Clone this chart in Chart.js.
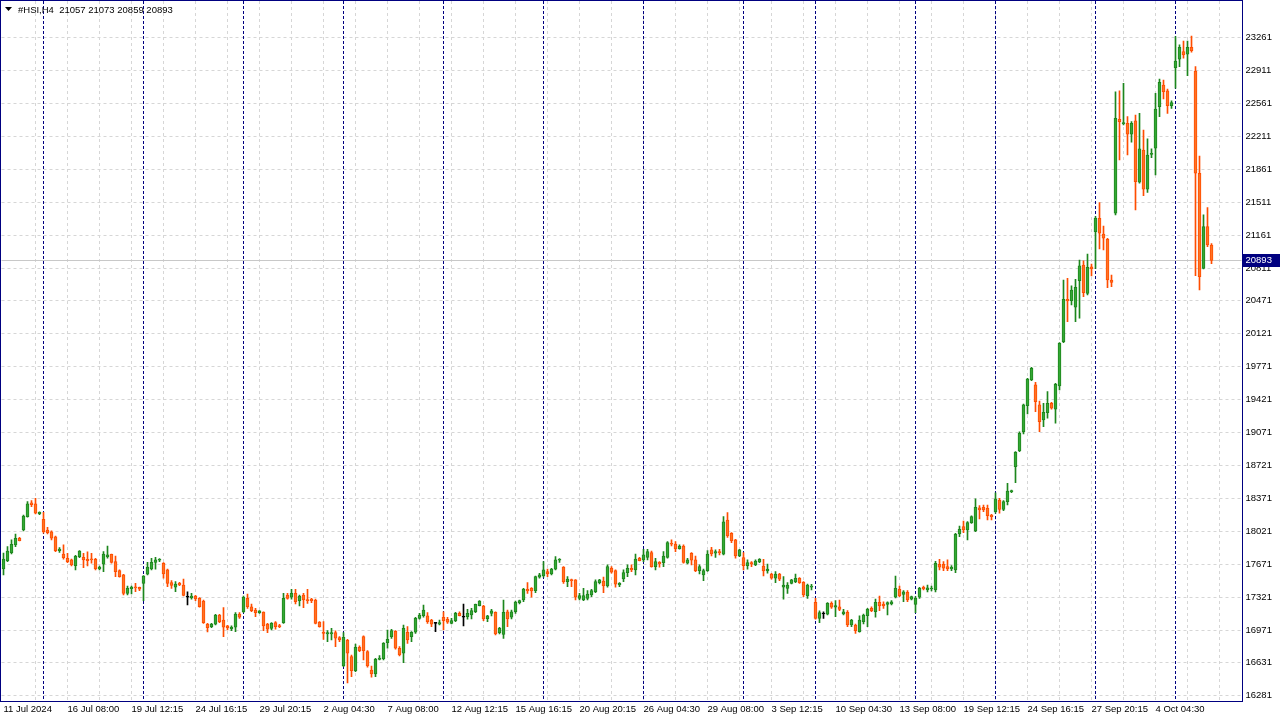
<!DOCTYPE html>
<html>
<head>
<meta charset="utf-8">
<title>#HSI,H4</title>
<script src="https://cdn.jsdelivr.net/npm/chart.js@4.4.1/dist/chart.umd.min.js"></script>
<style>
  html, body { margin: 0; padding: 0; background: #ffffff; }
  #wrap { width: 1280px; height: 720px; position: relative; }
</style>
</head>
<body>
<div id="wrap"><canvas id="chart" width="1280" height="720"></canvas></div>
<script>
// H4 candles, 11 Jul 2024 .. 7 Oct 2024
const opens = [
  17621,17709,17794,17876,17947,18035,18176,18324,18311,18208,
  18148,18035,18014,17961,17815,17780,17735,17717,17656,17752,
  17745,17724,17730,17724,17621,17671,17748,17777,17699,17603,
  17558,17363,17412,17427,17427,17469,17565,17621,17692,17714,
  17682,17611,17476,17427,17469,17451,17321,17314,17335,17310,
  17282,17038,17009,17035,17133,17080,17017,16985,17003,17144,
  17168,17310,17221,17186,17158,17165,17038,16992,17052,17020,
  17052,17345,17321,17363,17285,17345,17296,17303,17292,17059,
  16950,16932,16932,16946,16893,16592,16865,16691,16543,16791,
  16903,16744,16550,16508,16663,16670,16840,16903,16960,16780,
  16727,16950,16903,16950,17098,17126,17123,17080,17045,17035,
  17109,17088,17045,17073,17151,17109,17116,17133,17168,17232,
  17229,17094,17151,17162,16946,16928,17168,17109,17168,17264,
  17292,17406,17416,17391,17534,17547,17593,17568,17619,17714,
  17640,17487,17505,17505,17310,17292,17310,17345,17380,17476,
  17494,17441,17630,17603,17451,17515,17582,17629,17611,17735,
  17717,17745,17794,17646,17692,17688,17745,17894,17886,17837,
  17865,17682,17788,17717,17603,17558,17603,17823,17788,17805,
  17777,18141,18000,17929,17759,17741,17656,17688,17664,17695,
  17653,17600,17568,17523,17568,17427,17416,17469,17487,17523,
  17480,17335,17427,17268,17098,17144,17141,17257,17215,17221,
  17144,17162,17027,17027,16956,17063,17126,17204,17168,17268,
  17250,17246,17250,17321,17406,17352,17374,17300,17246,17321,
  17427,17399,17409,17399,17671,17671,17646,17621,17611,17992,
  18070,18035,18112,18024,18271,18276,18265,18194,18229,18353,
  18254,18335,18441,18707,18876,19077,19353,19626,19573,19361,
  19202,19279,19379,19315,19562,20032,20482,20467,20397,20679,
  20845,20545,20827,21199,21341,21174,21118,20686,21394,22391,
  22344,22348,22232,22373,21723,22065,21648,22019,22083,22524,
  22754,22691,22535,22938,23027,23108,23080,23154,22903,21818,
  20810,21252,21057
];
const highs = [
  17791,17858,17929,17992,17957,18194,18335,18346,18371,18226,
  18223,18063,18027,17971,17847,17876,17788,17727,17767,17815,
  17788,17802,17788,17735,17653,17805,17865,17780,17759,17611,
  17565,17441,17441,17469,17430,17550,17692,17735,17745,17731,
  17688,17619,17497,17487,17480,17515,17380,17363,17342,17317,
  17292,17045,17045,17141,17141,17211,17024,17017,17158,17158,
  17335,17356,17250,17204,17179,17168,17045,17052,17063,17035,
  17363,17363,17406,17406,17345,17363,17406,17310,17303,17063,
  17063,16967,16992,16964,16903,16946,16875,16709,16826,16805,
  16911,16755,16592,16674,16702,16840,16974,16982,16967,16797,
  17027,17009,16956,17109,17151,17239,17158,17088,17052,17080,
  17168,17109,17098,17162,17168,17250,17193,17204,17250,17285,
  17236,17130,17193,17168,17003,17292,17186,17186,17282,17292,
  17416,17476,17423,17547,17575,17699,17619,17629,17752,17731,
  17646,17540,17515,17508,17363,17416,17391,17406,17505,17512,
  17534,17664,17646,17611,17476,17611,17664,17664,17780,17745,
  17830,17830,17812,17735,17699,17805,17911,17929,17911,17876,
  17876,17735,17794,17759,17664,17619,17815,17851,17823,17830,
  18176,18219,18006,17936,17830,17794,17717,17699,17717,17731,
  17724,17674,17576,17593,17576,17540,17476,17512,17568,17529,
  17487,17462,17459,17310,17176,17168,17264,17274,17285,17292,
  17193,17179,17088,17038,17123,17144,17204,17221,17303,17335,
  17274,17274,17285,17547,17441,17391,17391,17335,17328,17427,
  17441,17451,17441,17703,17724,17699,17717,17656,18000,18077,
  18130,18123,18186,18364,18293,18300,18300,18201,18430,18371,
  18346,18530,18459,18866,19077,19371,19644,19760,19601,19403,
  19379,19502,19389,19591,20021,20686,20704,20623,20694,20898,
  20888,20962,20856,21358,21506,21259,21129,20739,22683,22691,
  22772,22418,22365,22436,22454,22277,22182,22076,22666,22818,
  22807,22712,22585,23267,23179,23221,23221,23274,22949,22001,
  21376,21453,21073
];
const lows = [
  17558,17699,17780,17858,17918,18024,18170,18282,18205,18197,
  18000,17992,17929,17805,17798,17724,17688,17653,17611,17741,
  17635,17653,17682,17611,17611,17593,17735,17682,17540,17534,
  17345,17345,17356,17380,17391,17285,17558,17611,17619,17699,
  17523,17433,17416,17380,17444,17335,17239,17300,17285,17215,
  17045,16953,17000,17027,17052,16903,16974,16967,16956,17098,
  17158,17204,17168,17115,17151,16967,16946,16974,16982,17000,
  17045,17300,17300,17250,17229,17211,17257,17264,17038,17003,
  16875,16850,16868,16797,16850,16585,16412,16479,16532,16744,
  16656,16579,16473,16480,16656,16656,16780,16886,16770,16699,
  16628,16833,16850,16939,17088,17109,17045,17009,16956,17027,
  16974,17045,17038,17063,17123,17017,17088,17091,17158,17229,
  17073,17063,17123,16921,16932,16886,17009,17091,17151,17250,
  17274,17363,17321,17370,17523,17534,17540,17558,17611,17692,
  17469,17433,17433,17292,17292,17285,17292,17328,17370,17462,
  17370,17427,17576,17427,17433,17487,17540,17593,17558,17706,
  17699,17717,17640,17611,17640,17646,17735,17865,17805,17830,
  17682,17674,17664,17593,17568,17497,17596,17759,17745,17770,
  17770,17957,17900,17735,17752,17611,17618,17646,17656,17688,
  17547,17576,17512,17476,17497,17300,17363,17462,17476,17469,
  17328,17310,17399,17088,17052,17098,17133,17204,17115,17179,
  17133,17009,17009,16939,16950,17038,17009,17168,17109,17179,
  17204,17133,17239,17314,17328,17274,17274,17292,17158,17310,
  17399,17377,17388,17377,17611,17603,17603,17603,17582,17964,
  18006,17929,18105,18017,18152,18229,18141,18141,18212,18212,
  18240,18300,18430,18537,18865,19053,19265,19618,19290,19077,
  19130,19220,19315,19167,19520,20021,20244,20421,20244,20280,
  20509,20527,20729,20810,21015,21005,20605,20615,21376,21959,
  22330,22012,22147,21429,21712,21580,21616,21983,21800,22418,
  22606,22454,22507,22720,22949,23038,22853,23101,20732,20580,
  20803,21040,20859
];
const closes = [
  17727,17812,17883,17947,17921,18183,18311,18303,18212,18223,
  18017,18006,17947,17815,17833,17741,17699,17664,17756,17812,
  17717,17709,17717,17624,17640,17780,17770,17692,17593,17540,
  17363,17416,17430,17420,17406,17547,17640,17692,17717,17717,
  17568,17469,17448,17462,17451,17342,17321,17335,17303,17221,
  17052,17000,17038,17133,17063,17003,16995,17006,17144,17109,
  17321,17221,17179,17158,17176,17017,16982,17045,17009,17009,
  17310,17310,17363,17274,17335,17292,17285,17285,17045,17009,
  16939,16946,16946,16887,16868,16897,16727,16543,16791,16755,
  16755,16592,16508,16663,16677,16833,16875,16967,16780,16709,
  16992,16868,16950,17098,17133,17186,17063,17035,17045,17052,
  17073,17056,17073,17151,17126,17109,17151,17179,17246,17282,
  17091,17123,17176,16932,16992,17162,17091,17168,17271,17285,
  17409,17388,17388,17540,17558,17611,17568,17619,17717,17717,
  17487,17515,17497,17321,17339,17339,17356,17391,17487,17505,
  17441,17646,17587,17459,17469,17582,17629,17611,17727,17709,
  17770,17805,17646,17699,17674,17759,17900,17883,17833,17865,
  17692,17717,17714,17603,17646,17603,17780,17780,17805,17794,
  18120,17971,17921,17759,17823,17656,17688,17671,17706,17724,
  17600,17621,17523,17568,17512,17451,17451,17505,17523,17476,
  17345,17451,17441,17098,17158,17144,17257,17215,17232,17193,
  17168,17027,17080,16967,17080,17133,17193,17179,17268,17229,
  17229,17264,17274,17416,17335,17380,17292,17328,17310,17416,
  17409,17420,17415,17682,17640,17630,17621,17640,17989,18042,
  18035,18112,18176,18276,18247,18247,18186,18176,18364,18254,
  18335,18448,18445,18859,19060,19361,19636,19750,19396,19184,
  19283,19379,19326,19580,20015,20482,20464,20580,20609,20835,
  20552,20821,20803,21341,21182,21129,20686,20660,22401,22365,
  22348,22232,22348,21729,22076,21648,22012,22023,22500,22783,
  22683,22535,22567,23009,23154,23073,23154,23118,21818,20721,
  21252,21058,20893
];

// time labels, one every 16 bars
const timeLabels = [
  '11 Jul 2024', '16 Jul 08:00', '19 Jul 12:15', '24 Jul 16:15', '29 Jul 20:15',
  '2 Aug 04:30', '7 Aug 08:00', '12 Aug 12:15', '15 Aug 16:15', '20 Aug 20:15',
  '26 Aug 04:30', '29 Aug 08:00', '3 Sep 12:15', '10 Sep 04:30', '13 Sep 08:00',
  '19 Sep 12:15', '24 Sep 16:15', '27 Sep 20:15', '4 Oct 04:30'
];
const labelStep = 16;
const gridStep = 8;
const emptyBarsRight = 7;   // chart shift on the right

// bar index of the weekly period separators
const separators = [10, 35, 60, 85, 110, 135, 160, 185, 203, 228, 248, 273, 293];

// price scale labels
const priceTicks = [23261, 22911, 22561, 22211, 21861, 21511, 21161, 20811, 20471, 20121,
  19771, 19421, 19071, 18721, 18371, 18021, 17671, 17321, 16971, 16631, 16281];

const symbolTitle = '#HSI,H4';

const FONT = 'Liberation Sans, Arial, sans-serif';
const UP_FILL = '#34a834', UP_LINE = '#1d861d';
const DN_FILL = '#ff7424', DN_LINE = '#ff4d00';
const FRAME = '#000080';

const nBars = opens.length + emptyBarsRight;
const labels = [];
for (let i = 0; i < nBars; i++) {
  labels.push(i % labelStep === 0 && timeLabels[i / labelStep] ? timeLabels[i / labelStep] : '');
}

function dir(i) {
  if (closes[i] > opens[i]) return 1;
  if (closes[i] < opens[i]) return -1;
  return 0;
}
const bodyFill = opens.map((o, i) => dir(i) > 0 ? UP_FILL : dir(i) < 0 ? DN_FILL : '#000000');
const bodyLine = opens.map((o, i) => dir(i) > 0 ? UP_LINE : dir(i) < 0 ? DN_LINE : '#000000');

const last = closes.length - 1;

// no extra room for the first/last tick labels
function noPadding(scale) {
  scale.paddingTop = 0;
  scale.paddingBottom = 0;
  scale.paddingLeft = 0;
  scale.paddingRight = 0;
}

const overlay = {
  id: 'overlay',
  beforeDatasetsDraw(chart) {
    const ctx = chart.ctx, a = chart.chartArea;
    const x = chart.scales.x, y = chart.scales.y;
    ctx.save();
    // current price line
    const py = Math.round(y.getPixelForValue(closes[last])) + 0.5;
    ctx.strokeStyle = '#c8c8c8';
    ctx.lineWidth = 1;
    ctx.beginPath();
    ctx.moveTo(a.left, py);
    ctx.lineTo(a.right, py);
    ctx.stroke();
    // period separators
    ctx.strokeStyle = FRAME;
    ctx.setLineDash([3, 2]);
    separators.forEach(i => {
      const px = x.getPixelForValue(i);
      ctx.beginPath();
      ctx.moveTo(px, a.top);
      ctx.lineTo(px, a.bottom);
      ctx.stroke();
    });
    ctx.restore();
  },
  afterDraw(chart) {
    const ctx = chart.ctx, a = chart.chartArea;
    const y = chart.scales.y;
    ctx.save();
    // frame
    ctx.strokeStyle = FRAME;
    ctx.lineWidth = 1;
    ctx.strokeRect(0.5, 0.5, Math.round(a.right), Math.round(a.bottom));
    // price label on the scale
    const py = Math.round(y.getPixelForValue(closes[last]));
    ctx.fillStyle = FRAME;
    ctx.fillRect(Math.round(a.right) + 1, py - 6, 38, 13);
    ctx.fillStyle = '#ffffff';
    ctx.font = '9.5px ' + FONT;
    ctx.textBaseline = 'middle';
    ctx.fillText(String(closes[last]), a.right + 4, py + 0.5);
    // title
    ctx.fillStyle = '#000000';
    ctx.beginPath();
    ctx.moveTo(5, 7);
    ctx.lineTo(12, 7);
    ctx.lineTo(8.5, 11);
    ctx.closePath();
    ctx.fill();
    ctx.font = '9.5px ' + FONT;
    ctx.fillText(symbolTitle + '  ' + opens[last] + ' ' + highs[last] + ' ' + lows[last] + ' ' + closes[last], 18, 10);
    ctx.restore();
  }
};

const config = {
  type: 'bar',
  data: {
    labels: labels,
    datasets: [{
      label: 'body',
      data: opens.map((o, i) => [o, closes[i]]),
      backgroundColor: bodyFill,
      borderColor: bodyLine,
      borderWidth: 1,
      borderSkipped: false,
      barThickness: 3,
      minBarLength: 1,
      grouped: false,
      order: 1
    }, {
      label: 'wick',
      data: lows.map((l, i) => [l, highs[i]]),
      backgroundColor: bodyLine,
      borderWidth: 0,
      barThickness: 1,
      grouped: false,
      order: 2
    }]
  },
  options: {
    responsive: false,
    animation: false,
    devicePixelRatio: 1,
    layout: { padding: { left: 1.5, top: 1, right: 0, bottom: 0 } },
    plugins: {
      legend: { display: false },
      tooltip: { enabled: false },
      title: { display: false }
    },
    scales: {
      x: {
        type: 'category',
        offset: true,
        afterFit(scale) { scale.height = 19; noPadding(scale); },
        border: { display: false, dash: [3, 3] },
        grid: {
          offset: false,
          drawTicks: false,
          color: c => (c.index > 0 && c.index % gridStep === 0) ? '#d6d6d6' : 'rgba(0,0,0,0)'
        },
        ticks: {
          autoSkip: false,
          maxRotation: 0,
          minRotation: 0,
          align: 'start',
          padding: 3,
          color: '#000000',
          font: { family: FONT, size: 9.5 }
        }
      },
      y: {
        position: 'right',
        min: 16221,
        max: 23645,
        afterFit(scale) { scale.width = 38.5; noPadding(scale); },
        afterBuildTicks(scale) { scale.ticks = priceTicks.map(v => ({ value: v })); },
        border: { display: false, dash: [3, 3] },
        grid: { color: '#d6d6d6', drawTicks: false },
        ticks: {
          padding: 4,
          color: '#000000',
          font: { family: FONT, size: 9.5 },
          callback: v => String(v)
        }
      }
    }
  },
  plugins: [overlay]
};

document.addEventListener('DOMContentLoaded', function() {
  const ctx = document.getElementById('chart').getContext('2d');
  new Chart(ctx, config);
});
</script>
</body>
</html>
